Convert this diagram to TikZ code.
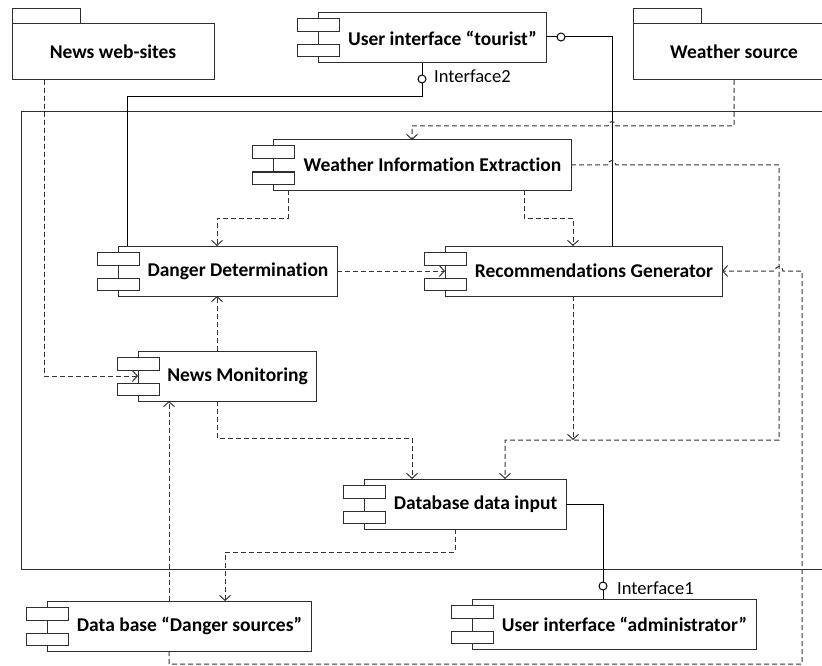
\documentclass[tikz,border=0pt]{standalone}
\usepackage{fontspec}
\setmainfont{Carlito}[Ligatures=NoCommon]
\usetikzlibrary{calc,arrows.meta}
\definecolor{lc}{HTML}{2E2E2E}
\definecolor{dc}{HTML}{333333}
\tikzset{
  compline/.style={draw=lc, line width=1pt},
  compbody/.style={draw=lc, line width=1pt, fill=white, rectangle, inner sep=0pt, outer sep=0pt},
  comptext/.style={font=\fontsize{19.5}{22}\selectfont\bfseries, inner sep=0pt},
  iftext/.style={font=\fontsize{18.5}{22}\selectfont, inner sep=0pt, anchor=west},
  lolli/.style={draw=black, line width=1pt, circle, fill=white, minimum size=8pt, inner sep=0pt, outer sep=0pt},
  sline/.style={draw=black, line width=1pt},
  dep/.style={draw=dc, line width=1pt, dash pattern=on 5pt off 3pt, -{Straight Barb[length=5pt,width=11pt]}},
  frameline/.style={draw=lc, line width=1pt}
}
\newcommand\mycomp[6]{%
  \node[compbody, minimum width={#4-#2}, minimum height={#5-#3}, anchor=north west] (#1) at (#2,#3) {};
  \draw[compline, fill=white] ($(#1.north west)+(-21,6)$) rectangle ++(42,13);
  \draw[compline, fill=white] ($(#1.north west)+(-21,32)$) rectangle ++(42,12);
  \node[comptext] (#1-label) at ({(#2+21+#4)/2},{(#3+#5)/2}) {#6};
}
\newcommand\mypkg[6]{%
  \draw[compline] (#2,#3) rectangle ++(68,-15);
  \node[compbody, minimum width={#4-#2}, minimum height={#5-#3}, anchor=north west] (#1) at (#2,#3) {};
  \node[comptext] (#1-label) at ({(#2+#4)/2},{(#3+#5)/2}) {#6};
}
\begin{document}
\begin{tikzpicture}[x=1pt,y=-1pt]
\useasboundingbox (0,0) rectangle (822,666);
\clip (0,0) rectangle (822,666);
\fill[white] (0,0) rectangle (822,666);

% frame
\draw[frameline] (840,112) -- (21,112) -- (21,569) -- (840,569);

% packages
\mypkg{nws}{12}{24}{214}{80}{News web-sites}
\mypkg{ws}{633}{24}{835}{80}{Weather source}

% components
\mycomp{uit}{318}{13}{546}{63}{User interface “tourist”}
\mycomp{wie}{273}{140}{571}{190}{Weather Information Extraction}
\mycomp{dd}{118}{246}{337}{296}{Danger Determination}
\mycomp{rg}{445}{246}{722}{296}{Recommendations Generator}
\mycomp{nm}{138}{351}{316}{401}{News Monitoring}
\mycomp{dbi}{364}{479}{566}{529}{Database data input}
\mycomp{ds}{47}{601}{311}{651}{Data base “Danger sources”}
\mycomp{uia}{472}{599}{756}{649}{User interface “administrator”}

% interfaces
\node[lolli] (i2) at (422,79) {};
\node[iftext] (i2-label) at (434,76) {Interface2};
\node[lolli] (i3) at (561,37) {};
\node[lolli] (i1) at (603,586) {};
\node[iftext] (i1-label) at (617,588) {Interface1};

\coordinate (c127) at (127,97);
\coordinate (x612) at (612,0);
\coordinate (x44) at (44,0);

% solid connectors
\draw[sline] (uit.south -| i2) -- (i2.north);
\draw[sline] (i2.south) |- (c127) -- (c127 |- dd.north);
\draw[sline] (uit.east |- i3) -- (i3.west);
\draw[sline] (i3.east) -| (x612 |- rg.north);
\draw[sline] (dbi.east) -| (i1.north);
\draw[sline] (i1.south) -- (i1 |- uia.north);

% dependencies
\draw[dep] (x44 |- nws.south) |- (nm.west);
\draw[dep] (ws.south) |- (616,126) .. controls (616,120) and (608,120) .. (608,126) -| ([xshift=139]wie.north west);
\draw[dep] ([xshift=15]wie.south west) -- ++(0,28) -| ([xshift=99]dd.north west);
\draw[dep] ([xshift=251]wie.south west) -- ++(0,28) -| ([xshift=128]rg.north west);
\draw[dep] (dd.east) -- (rg.west);
\draw[dep] ([xshift=79]nm.north west) -- ([xshift=99]dd.south west);
\draw[dep] (wie.east) -- (608,165) .. controls (608,159) and (616,159) .. (616,165) -- (779,165) -- (779,440) -| ([xshift=141]dbi.north west);
\coordinate (j440) at (573,440);
\draw[dep] ([xshift=128]rg.south west) -- (j440);
\draw[dep] ([xshift=79]nm.south west) -- ++(0,37) -| ([xshift=48]dbi.north west);
\draw[dep] ([xshift=91]dbi.south west) -- ++(0,23) -| ([xshift=178]ds.north west);
\draw[dep] ([xshift=122]ds.north west) -- ([xshift=31]nm.south west);
\draw[dep] ([xshift=122]ds.south west) -- ++(0,13) -| (802,271) -- (783,271) .. controls (783,265) and (775,265) .. (775,271) -- (rg.east);
\end{tikzpicture}
\end{document}
